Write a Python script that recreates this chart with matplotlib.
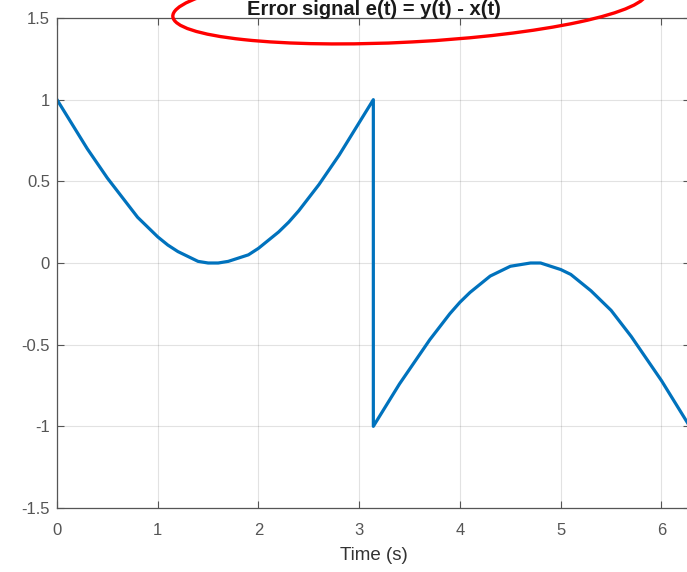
import matplotlib
matplotlib.use("Agg")
import matplotlib.pyplot as plt
from matplotlib.patches import Ellipse
from matplotlib.transforms import IdentityTransform

# values (first half, then after the jump)
t_vals = [0.0, 0.1, 0.2, 0.3, 0.4, 0.5, 0.6, 0.7, 0.8, 0.9, 1.0, 1.1, 1.2,
          1.3, 1.4, 1.5, 1.6, 1.7, 1.8, 1.9, 2.0, 2.1, 2.2, 2.3, 2.4, 2.5,
          2.6, 2.7, 2.8, 2.9, 3.0, 3.1, 3.14,
          3.14, 3.2, 3.3, 3.4, 3.5, 3.6, 3.7, 3.8, 3.9, 4.0, 4.1, 4.2, 4.3,
          4.4, 4.5, 4.6, 4.7, 4.8, 4.9, 5.0, 5.1, 5.2, 5.3, 5.4, 5.5, 5.6,
          5.7, 5.8, 5.9, 6.0, 6.1, 6.2, 6.28]
e_vals = [1.00, 0.90, 0.80, 0.70, 0.61, 0.52, 0.44, 0.36, 0.28, 0.22, 0.16,
          0.11, 0.07, 0.04, 0.01, 0.00, 0.00, 0.01, 0.03, 0.05, 0.09, 0.14,
          0.19, 0.25, 0.32, 0.40, 0.48, 0.57, 0.66, 0.76, 0.86, 0.96, 1.00,
          -1.00, -0.94, -0.84, -0.74, -0.65, -0.56, -0.47, -0.39, -0.31,
          -0.24, -0.18, -0.13, -0.08, -0.05, -0.02, -0.01, 0.00, 0.00, -0.02,
          -0.04, -0.07, -0.12, -0.17, -0.23, -0.29, -0.37, -0.45, -0.54,
          -0.63, -0.72, -0.82, -0.92, -1.00]

x_ticks = [0, 1, 2, 3, 4, 5, 6]
y_ticks = [-1.5, -1, -0.5, 0, 0.5, 1, 1.5]
y_tick_labels = ["-1.5", "-1", "-0.5", "0", "0.5", "1", "1.5"]

plt.rcParams['font.family'] = ['Liberation Sans', 'DejaVu Sans']

fig = plt.figure(figsize=(6.87, 5.72), dpi=100)
ax = fig.add_axes([57 / 687, 64 / 572, 633 / 687, 490 / 572])

ax.plot(t_vals, e_vals, color='#0072BD', linewidth=2.3)

ax.set_xlim(0, 6.2832)
ax.set_ylim(-1.5, 1.5)
ax.set_xticks(x_ticks)
ax.set_xticklabels([str(v) for v in x_ticks])
ax.set_yticks(y_ticks)
ax.set_yticklabels(y_tick_labels)
ax.grid(True, color='#262626', alpha=0.13, linewidth=0.8)
ax.set_axisbelow(True)

ax.tick_params(direction='in', top=True, right=True, length=5, width=0.8,
               colors='#555555', labelsize=12)
ax.tick_params(axis='x', pad=11)
ax.tick_params(axis='y', pad=5)
for s in ax.spines.values():
    s.set_color('#555555')
    s.set_linewidth(0.9)

ax.set_xlabel("Time (s)", fontsize=13.5, color='#333333', labelpad=6)
ax.set_title("Error signal e(t) = y(t) - x(t)", fontsize=14.5,
             fontweight='bold', color='#1a1a1a', pad=2.5)

# hand-drawn red ring round the title
fig.add_artist(Ellipse((410, 568), 475, 76, angle=3, fill=False,
                       edgecolor='red', linewidth=2.4,
                       transform=IdentityTransform()))

fig.savefig("out.png", dpi=100)
